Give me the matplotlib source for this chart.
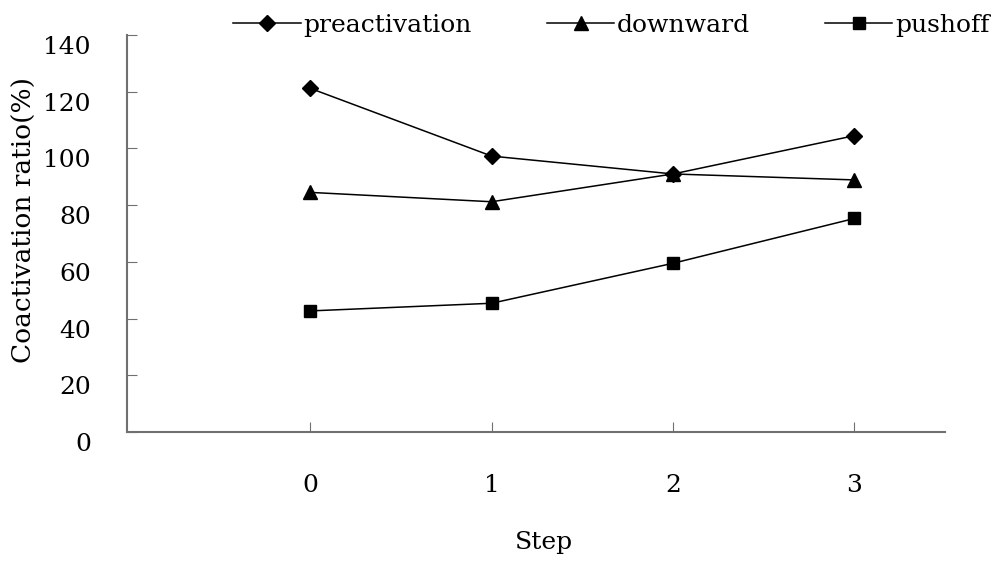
import matplotlib
matplotlib.use("Agg")
import matplotlib.pyplot as plt
import matplotlib.transforms as mtransforms

steps = [0, 1, 2, 3]
preactivation = [121.2, 97.3, 91.0, 104.5]
downward = [84.5, 81.2, 91.0, 88.9]
pushoff = [42.7, 45.4, 59.5, 75.3]
yticks = [0, 20, 40, 60, 80, 100, 120, 140]

plt.rcParams['font.family'] = ['DejaVu Serif']

fig = plt.figure(figsize=(10.05, 5.63), dpi=100)
ax = fig.add_axes([0.1264, 0.2327, 0.814, 0.7051])

ax.plot(steps, preactivation, color='black', lw=1.1, marker='D', ms=8,
        label='preactivation')
ax.plot(steps, downward, color='black', lw=1.1, marker='^', ms=10,
        label='downward')
ax.plot(steps, pushoff, color='black', lw=1.1, marker='s', ms=9,
        label='pushoff')

ax.set_xlim(-1.01, 3.5)
ax.set_ylim(0, 140)
ax.set_xticks(steps)
ax.set_yticks(yticks)

for s in ['top', 'right']:
    ax.spines[s].set_visible(False)
for s in ['left', 'bottom']:
    ax.spines[s].set_color('#707070')
    ax.spines[s].set_linewidth(1.5)

ax.tick_params(axis='both', direction='in', length=7, color='#707070',
               labelsize=18)
ax.tick_params(axis='x', pad=30)
ax.tick_params(axis='y', pad=26)

# y tick labels sit a bit below their ticks in the original
off = mtransforms.ScaledTranslation(0, -10 / 100, fig.dpi_scale_trans)
for lab in ax.get_yticklabels():
    lab.set_transform(lab.get_transform() + off)

ax.set_xlabel('Step', fontsize=18)
ax.xaxis.set_label_coords(0.51, -0.25)
ax.set_ylabel('Coactivation ratio(%)', fontsize=19)
ax.yaxis.set_label_coords(-0.11, 0.535)

ax.legend(loc='center left', bbox_to_anchor=(0.13, 1.025), ncol=3,
          frameon=False, fontsize=18, handlelength=2.7, columnspacing=3.0,
          handletextpad=0.1, borderaxespad=0, borderpad=0)

fig.savefig('out.png', dpi=100)
